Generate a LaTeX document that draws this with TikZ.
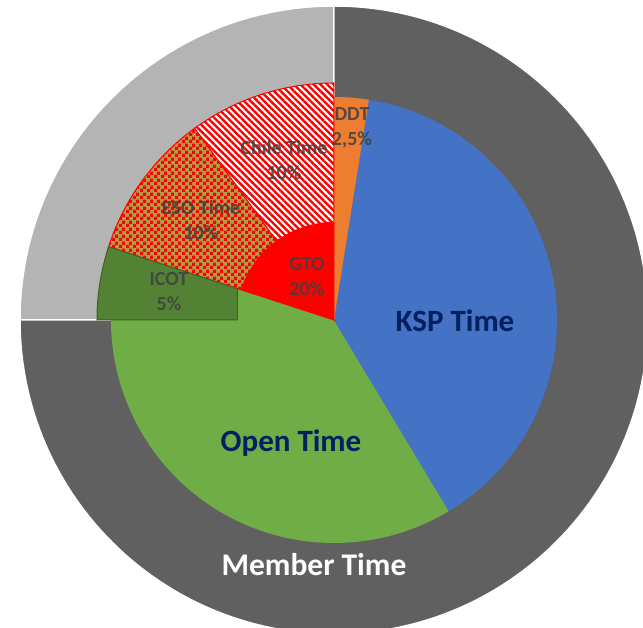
\documentclass[tikz,border=0pt]{standalone}
\usepackage{fontspec}
\setmainfont{Carlito}
\usetikzlibrary{patterns,patterns.meta}
\definecolor{membergray}{HTML}{606060}
\definecolor{restgray}{HTML}{B4B4B4}
\definecolor{openGreen}{HTML}{70AD47}
\definecolor{kspBlue}{HTML}{4472C4}
\definecolor{ddtOrange}{HTML}{ED7D31}
\definecolor{icotGreen}{HTML}{548235}
\definecolor{icotLine}{HTML}{3D6126}
\definecolor{esoOlive}{HTML}{B49B48}
\definecolor{navyText}{HTML}{002060}
\definecolor{labelGray}{HTML}{404040}
\tikzdeclarepattern{
  name=esochecks,
  type=uncolored,
  bottom left={(0pt,0pt)},
  top right={(6.6pt,6.6pt)},
  tile size={(6.6pt,6.6pt)},
  code={
    \fill (0pt,0pt) rectangle (3.3pt,3.3pt);
    \fill (3.3pt,3.3pt) rectangle (6.6pt,6.6pt);
  }
}
\begin{document}
\begin{tikzpicture}[x=1pt,y=1pt,
  big/.style={font=\bfseries\fontsize{31}{36}\selectfont, text=navyText},
  small/.style={font=\bfseries\fontsize{20}{25}\selectfont, text=labelGray, text opacity=0.85, align=center}]
\useasboundingbox (-334,-308) rectangle (309,320);
\clip (-334,-308) rectangle (309,320);
\filldraw[restgray, draw=white, line width=1.5] (0,0) -- (90:314) arc[start angle=90, end angle=180, radius=314] -- cycle;
\filldraw[membergray, draw=white, line width=1.5] (0,0) -- (180:314) arc[start angle=180, end angle=450, radius=314] -- cycle;
\fill[openGreen] (0,0) -- (162:223) arc[start angle=162, end angle=301, radius=223] -- cycle;
\fill[kspBlue] (0,0) -- (-59:223) arc[start angle=-59, end angle=81, radius=223] -- cycle;
\fill[ddtOrange] (0,0) -- (81:223) arc[start angle=81, end angle=90, radius=223] -- cycle;
\fill[esoOlive] (0,0) -- (126:237) arc[start angle=126, end angle=162, radius=237] -- cycle;
\fill[pattern=esochecks, pattern color=red] (0,0) -- (126:237) arc[start angle=126, end angle=162, radius=237] -- cycle;
\draw[red, line width=1] (0,0) -- (126:237) arc[start angle=126, end angle=162, radius=237] -- cycle;
\fill[white] (0,0) -- (90:237) arc[start angle=90, end angle=126, radius=237] -- cycle;
\fill[pattern={Lines[angle=-45, distance=4.7pt, line width=2.4pt]}, pattern color=red] (0,0) -- (90:237) arc[start angle=90, end angle=126, radius=237] -- cycle;
\draw[red, line width=1] (0,0) -- (90:237) arc[start angle=90, end angle=126, radius=237] -- cycle;
\begin{scope}
\clip (-240,-2) rectangle (-96,100);
\filldraw[icotGreen, draw=icotLine, line width=1] (0,0) -- (162:237) arc[start angle=162, end angle=180, radius=237] -- cycle;
\end{scope}
\draw[icotLine, line width=1] (-96,0) -- (-96,31.2);
\fill[red] (0,0) -- (90:98) arc[start angle=90, end angle=162, radius=98] -- cycle;
\node[big] (ksp) at (121,-1) {KSP Time};
\node[big] (open) at (-43,-123) {Open Time};
\node[big, text=white, font=\bfseries\fontsize{31.5}{36}\selectfont] (member) at (-20,-245) {Member Time};
\node[small] (ddt) at (18,192) {DDT\\2,5\%};
\node[small] (chile) at (-50,160) {Chile Time\\10\%};
\node[small] (eso) at (-133,100) {ESO Time\\10\%};
\node[small] (icot) at (-165,28) {ICOT\\5\%};
\node[small] (gto) at (-27,43) {GTO\\20\%};
\end{tikzpicture}
\end{document}
